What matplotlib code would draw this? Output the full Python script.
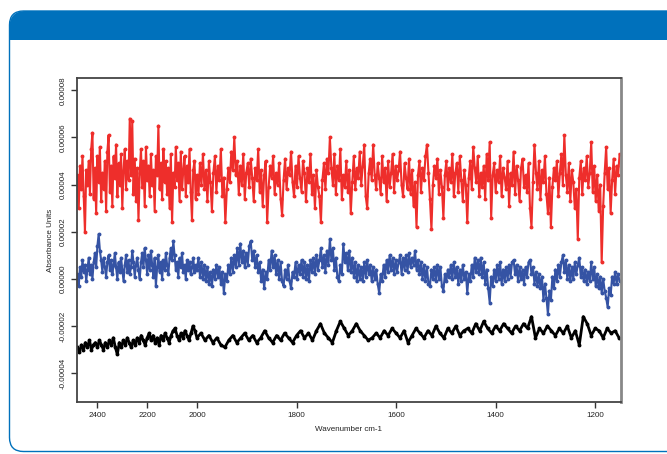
import numpy as np
import matplotlib
matplotlib.use("Agg")
import matplotlib.pyplot as plt
from matplotlib.patches import FancyBboxPatch, Rectangle

plt.rcParams['font.family'] = ['Liberation Sans', 'DejaVu Sans']

# ---------------- data (absorbance in units of 1e-6) ----------------
# wavenumber grids (cm-1): coarser sampling above 2000, finer below
wn_red = np.concatenate([np.arange(2480, 2000, -5), np.arange(2000, 1149, -3)])
wn_blue = np.concatenate([np.arange(2480, 2000, -5), np.arange(2000, 1149, -3)])
wn_black = np.arange(2480, 1149, -8)

red_high = [  # 2480 .. 2005 cm-1
    44, 30, 48, 38, 52, 35, 20, 46, 40, 50,
    36, 55, 62, 34, 47, 28, 52, 41, 56, 33,
    45, 38, 50, 29, 54, 61, 37, 48, 31, 52,
    43, 57, 35, 49, 40, 53, 30, 46, 55, 38,
    50, 42, 68, 44, 67, 36, 51, 33, 47, 25,
    45, 55, 39, 50, 31, 56, 42, 48, 35, 53,
    40, 46, 29, 52, 44, 65, 38, 49, 34, 55,
    41, 50, 36, 47, 30, 53, 24, 45, 39, 56,
    42, 49, 33, 54, 38, 46, 52, 35, 48, 41,
    55, 37, 25, 46, 50, 34,
]
red_low = [  # 2000 .. 1151 cm-1
    44, 36, 49, 40, 53, 38, 46, 33, 50, 41,
    29, 45, 52, 37, 48, 42, 55, 35, 43, 24,
    38, 47, 41, 54, 46, 60, 44, 50, 36, 48,
    40, 53, 34, 45, 49, 39, 51, 43, 33, 47,
    42, 55, 37, 46, 31, 44, 50, 24, 39, 48,
    43, 52, 36, 45, 40, 49, 34, 27, 42, 51,
    38, 47, 44, 54, 41, 35, 48, 39, 52, 43,
    37, 50, 45, 33, 47, 41, 53, 36, 44, 30,
    46, 39, 35, 24, 42, 49, 38, 51, 45, 60,
    47, 40, 53, 36, 48, 42, 55, 34, 44, 39,
    50, 37, 46, 28, 41, 52, 38, 47, 43, 54,
    40, 48, 57, 35, 30, 45, 51, 42, 57, 44,
    38, 49, 43, 36, 52, 41, 47, 33, 50, 39,
    45, 53, 37, 48, 42, 46, 54, 40, 35, 49,
    43, 38, 51, 36, 46, 31, 41, 22, 44, 50,
    37, 47, 42, 52, 57, 45, 34, 21, 40, 48,
    43, 51, 36, 46, 39, 26, 44, 50, 38, 47,
    41, 53, 35, 45, 49, 37, 52, 42, 33, 46,
    40, 24, 43, 50, 38, 56, 47, 41, 52, 35,
    45, 39, 48, 34, 53, 42, 58, 26, 44, 49,
    37, 46, 41, 52, 35, 47, 43, 38, 50, 31,
    45, 40, 54, 36, 48, 42, 33, 47, 51, 39,
    44, 37, 49, 30, 22, 41, 57, 45, 38, 50,
    34, 46, 41, 52, 36, 28, 43, 22, 39, 47,
    42, 50, 35, 45, 53, 40, 61, 44, 37, 49,
    33, 46, 41, 30, 38, 17, 43, 50, 36, 47,
    42, 52, 39, 45, 58, 37, 48, 33, 44, 29,
    40, 7, 31, 45, 56, 38, 47, 28, 42, 51,
    36, 48, 44, 53,
]

blue_high = [  # 2480 .. 2005 cm-1
    2, -3, 5, 1, 8, 3, 6, -1, 4, 9,
    2, 6, 0, 7, 11, 5, 14, 19, 12, 8,
    3, 9, 5, 1, 7, 10, 4, 8, 2, 6,
    11, 5, 0, 7, 3, 9, 4, -1, 6, 10,
    3, 8, 2, 5, 12, 7, 1, 6, 9, 4,
    0, 7, 11, 5, 13, 8, 2, 10, 4, 12,
    6, 1, 9, -3, 5, 10, 3, 7, 0, 8,
    4, 11, 6, 2, 9, 13, 8, 16, 10, 4,
    7, 1, 9, 5, 11, 3, 6, 0, 8, 4,
    7, 2, 5, 9, 3, 6,
]
blue_low = [  # 2000 .. 1151 cm-1
    4, 9, 1, 7, 0, 6, -1, 5, -2, 3,
    -3, 4, 0, 6, 1, 5, -2, 3, -6, 2,
    -1, 6, 2, 9, 3, 10, 5, 13, 6, 15,
    7, 12, 5, 11, 6, 14, 16, 8, 12, 5,
    10, 3, 7, -1, 4, -4, 3, 0, 8, 4,
    12, 5, 10, 2, 8, 0, 7, -1, -3, 4,
    0, 6, -1, -4, 3, 1, 7, 0, 6, 2,
    8, 1, 7, 0, 6, -1, 8, 3, 9, 2,
    10, 4, 8, 13, 5, 10, 3, 12, 6, 17,
    8, 13, 4, 9, 1, -1, 6, 2, 15, 7,
    11, 4, 12, 3, 9, 1, 7, -1, 6, 0,
    5, -1, 7, 1, 8, 2, 6, -1, 5, 0,
    4, -2, -6, 2, -1, 6, 1, 8, 3, 10,
    4, 9, 2, 8, 3, 7, 10, 2, 9, 4,
    10, 3, 11, 5, 9, 6, 12, 4, 8, 2,
    7, 0, 6, -1, 5, -2, -3, 4, 0, 5,
    -1, 6, 0, 5, -3, -5, 2, -1, 4, 1,
    6, 0, 7, 1, 5, -2, 4, -1, 6, 0,
    3, -6, 2, -1, 6, 1, 9, 3, 8, 2,
    9, 1, 7, -2, 4, -4, -10, 1, -3, 4,
    -1, 6, 0, 7, -2, 4, -1, 5, 0, 6,
    1, 7, 8, 2, 6, -1, 5, 0, 4, -2,
    5, 1, 7, 8, 2, 5, -2, 3, -3, 2,
    -4, 1, -9, -2, -8, -15, -5, -9, 1, -4,
    4, -1, 6, 1, 7, 10, 3, 8, 0, 6,
    -1, 5, 0, 7, 2, 6, 9, 1, 5, -1,
    4, -2, 3, -1, 7, 0, 5, -3, 2, -4,
    1, -6, 0, -5, -8, -12, -4, -7, 1, -2,
    3, -2, 2, -1,
]

black = [  # 2480 .. 1152 cm-1
    -29, -31, -28, -30, -27, -29, -26, -30, -28, -27,
    -29, -26, -28, -30, -27, -29, -26, -28, -25, -29,
    -32, -27, -29, -26, -28, -25, -27, -29, -26, -28,
    -25, -27, -24, -26, -28, -25, -23, -26, -24, -27,
    -25, -28, -24, -26, -23, -25, -27, -24, -22, -21,
    -24, -26, -23, -25, -22, -24, -26, -23, -20, -22,
    -25,
    -23, -26, -24, -27, -25, -28, -29, -26, -24, -27,
    -25, -23, -26, -24, -27, -25, -22, -25, -27, -24,
    -26, -23, -25, -27, -24, -22, -25, -23, -26, -22,
    -19, -23, -25, -27, -22, -18, -21, -24, -22, -19,
    -22, -24, -26, -25, -23, -25, -22, -24, -21, -23,
    -25, -22, -27, -24, -21, -23, -25, -22, -24, -20,
    -23, -25, -21, -23, -20, -24, -22, -21, -23, -19,
    -22, -18, -21, -23, -20, -22, -19, -21, -23, -20,
    -22, -19, -21, -16, -25, -21, -23, -20, -22, -24,
    -21, -23, -20, -25, -22, -28, -16, -19, -24, -21,
    -22, -25, -21, -23, -22, -25,
]

red = red_high + red_low
blue = blue_high + blue_low

x_ticks = [2400, 2200, 2000, 1800, 1600, 1400, 1200]
y_ticks = [-0.00004, -0.00002, 0.0, 0.00002, 0.00004, 0.00006, 0.00008]
y_tick_labels = ["-0.00004", "-0.00002", "0.00000", "0.00002", "0.00004", "0.00006", "0.00008"]

# ---------------- figure ----------------
W, H = 667, 454
fig = plt.figure(figsize=(W / 100, H / 100), dpi=100)

bg = fig.add_axes([0, 0, 1, 1], zorder=-10)
bg.set_xlim(0, W)
bg.set_ylim(H, 0)
bg.axis("off")
HEAD = "#0071BC"
panel = FancyBboxPatch((9.5, 11), 720, 440.5, boxstyle="round,pad=0,rounding_size=14",
                       facecolor="white", edgecolor=HEAD, linewidth=1.0)
bg.add_patch(panel)
header = FancyBboxPatch((9.5, 11), 720, 60, boxstyle="round,pad=0,rounding_size=16",
                        facecolor=HEAD, edgecolor="none")
bg.add_patch(header)
clip = Rectangle((0, 0), W, 40, transform=bg.transData)
header.set_clip_path(clip)

ax = fig.add_axes([76.5 / W, 1 - 402 / H, (620.6 - 76.5) / W, (402 - 78.3) / H])


def fwd(x):
    x = np.asarray(x, dtype=float)
    return np.where(x > 2000, 2000 + (x - 2000) / 2.0, x)


def inv(y):
    y = np.asarray(y, dtype=float)
    return np.where(y > 2000, 2000 + (y - 2000) * 2.0, y)


ax.set_xscale("function", functions=(fwd, inv))

scale = 1e-6
ax.plot(wn_red, np.array(red) * scale, color="#EE2E2B", lw=1.5, marker="o", ms=1.8,
        mec="#EE2E2B", solid_joinstyle="round")
ax.plot(wn_blue, np.array(blue) * scale, color="#3553A4", lw=1.5, marker="o", ms=1.8,
        mec="#3553A4", solid_joinstyle="round")
ax.plot(wn_black, np.array(black) * scale, color="black", lw=2.0, marker="o", ms=1.8,
        solid_joinstyle="round")

ax.set_xlim(2484, 1149)
ax.set_ylim(-0.0000522, 0.0000851)
ax.set_xticks(x_ticks)
ax.set_xticklabels([str(t) for t in x_ticks])
ax.xaxis.set_minor_locator(matplotlib.ticker.NullLocator())
ax.set_yticks(y_ticks)
ax.set_yticklabels(y_tick_labels, rotation=90, va="center")

ax.tick_params(axis="both", labelsize=5.8, length=4, width=1.0, color="#333333",
               labelcolor="#222222", pad=3)
for s in ["left", "bottom", "top"]:
    ax.spines[s].set_color("#444444")
    ax.spines[s].set_linewidth(1.3)
ax.spines["right"].set_color("#888888")
ax.spines["right"].set_linewidth(2.0)

ax.set_xlabel("Wavenumber cm-1", fontsize=5.8, color="#222222", labelpad=5)
ax.set_ylabel("Absorbance Units", fontsize=5.8, color="#222222", labelpad=4)

fig.savefig("out.png", dpi=100)
